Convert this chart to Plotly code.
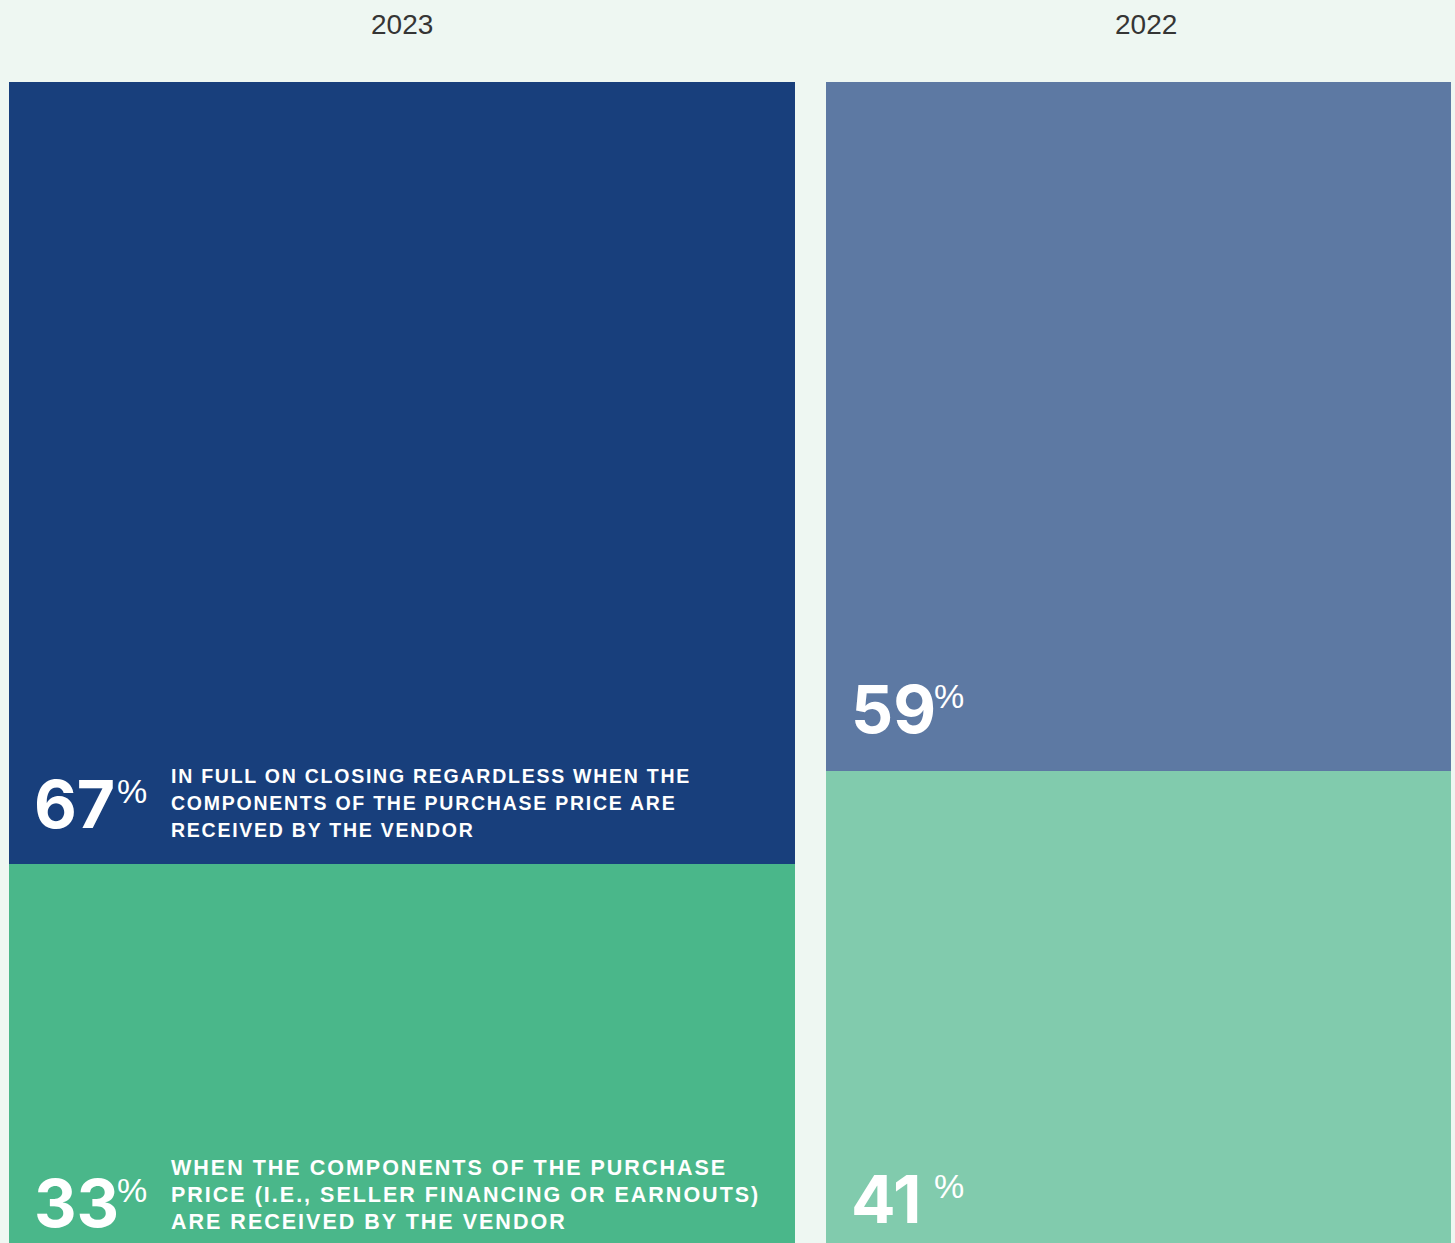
import plotly.graph_objects as go

# ---- data -------------------------------------------------------------
years = ["2023", "2022"]
paid_in_full = [67, 59]          # paid in full on closing
paid_when_received = [33, 41]    # paid when components are received
desc_in_full = [
    "IN FULL ON CLOSING REGARDLESS WHEN THE",
    "COMPONENTS OF THE PURCHASE PRICE ARE",
    "RECEIVED BY THE VENDOR",
]
desc_when_received = [
    "WHEN THE COMPONENTS OF THE PURCHASE",
    "PRICE (I.E., SELLER FINANCING OR EARNOUTS)",
    "ARE RECEIVED BY THE VENDOR",
]

# ---- layout constants (pixels) ----------------------------------------
W, H = 1455, 1243
BAR_TOP_PX, BAR_BOTTOM_PX = 82, 1249   # 100 % and 0 % in page pixels
col_left = [9, 826]
col_width = [786, 625]
col_center = [l + w / 2 for l, w in zip(col_left, col_width)]
year_label_dx = [0, 7]

# baseline lift of the big number above each segment's base, per column
num_lift_top = [36, 38]
num_lift_bottom = [22, 26]
# description blocks: baseline lift of last line, font size, tracking
desc_lift_top, desc_size_top, desc_track_top = 27.5, 19.5, 1.75
desc_lift_bottom, desc_size_bottom, desc_track_bottom = 19.5, 21.5, 2.0

BG = "#eef7f2"
top_colors = ["#183f7c", "#5d79a3"]
bottom_colors = ["#4ab78a", "#81cbad"]

FONT = "Liberation Sans, Arial, Helvetica, sans-serif"
NUM_FONT = "Inter, Liberation Sans, Arial, sans-serif"
NUM_SIZE = 66
PCT_SIZE = 34
LINE_GAP = 26.8

px_per_unit = (BAR_BOTTOM_PX - BAR_TOP_PX) / 100
y_max = 100 + BAR_TOP_PX / px_per_unit
y_min = y_max - H / px_per_unit

fig = go.Figure()
fig.add_trace(go.Bar(
    x=col_center, y=paid_when_received, width=col_width,
    marker=dict(color=bottom_colors, line=dict(width=0)),
    hoverinfo="skip", showlegend=False,
))
fig.add_trace(go.Bar(
    x=col_center, y=paid_in_full, width=col_width,
    marker=dict(color=top_colors, line=dict(width=0)),
    hoverinfo="skip", showlegend=False,
))

annotations = []


def text_at(x, y, text, size, dx, baseline_up, weight="bold", family=FONT,
            descent=0.212):
    """Place left-aligned text so its baseline sits `baseline_up` px above y."""
    anchor = max(y, y_min)              # keep the anchor inside the axis range
    extra = (anchor - y) * px_per_unit
    yshift = baseline_up - descent * size - extra
    annotations.append(dict(
        x=x, y=anchor, xref="x", yref="y", text=text, showarrow=False,
        xanchor="left", yanchor="bottom", xshift=dx, yshift=yshift,
        borderpad=0, borderwidth=0,
        font=dict(family=family, size=size, color="white", weight=weight),
    ))


def spaced(s, px):
    return f'<span style="letter-spacing:{px}px">{s}</span>'


for i in range(len(years)):
    # segment bases: the top segment sits on the bottom one
    segments = [
        (0, paid_when_received[i], num_lift_bottom[i],
         (desc_lift_bottom, desc_size_bottom, desc_track_bottom), desc_when_received),
        (paid_when_received[i], paid_in_full[i], num_lift_top[i],
         (desc_lift_top, desc_size_top, desc_track_top), desc_in_full),
    ]
    for base, value, lift, (dlift, dsize, dtrack), desc in segments:
        text_at(col_left[i], base, f"{value}", NUM_SIZE, 25, lift,
                family=NUM_FONT, descent=0.242)
        text_at(col_left[i], base, "%", PCT_SIZE, 108, lift + 25,
                weight="normal")
        if i == 0:
            for k, line in enumerate(desc):
                text_at(col_left[i], base, spaced(line, dtrack), dsize, 162,
                        dlift + (len(desc) - 1 - k) * LINE_GAP)

    annotations.append(dict(
        x=col_center[i], y=100, xref="x", yref="y", text=years[i],
        showarrow=False, xanchor="center", yanchor="middle",
        xshift=year_label_dx[i], yshift=BAR_TOP_PX - 24.5,
        font=dict(family=FONT, size=28, color="#353535"),
    ))

fig.update_layout(
    width=W, height=H,
    margin=dict(l=0, r=0, t=0, b=0),
    paper_bgcolor=BG, plot_bgcolor=BG,
    barmode="stack", bargap=0,
    xaxis=dict(range=[0, W], visible=False, fixedrange=True),
    yaxis=dict(range=[y_min, y_max], visible=False, fixedrange=True),
    annotations=annotations,
)

fig.write_html("out.html")
